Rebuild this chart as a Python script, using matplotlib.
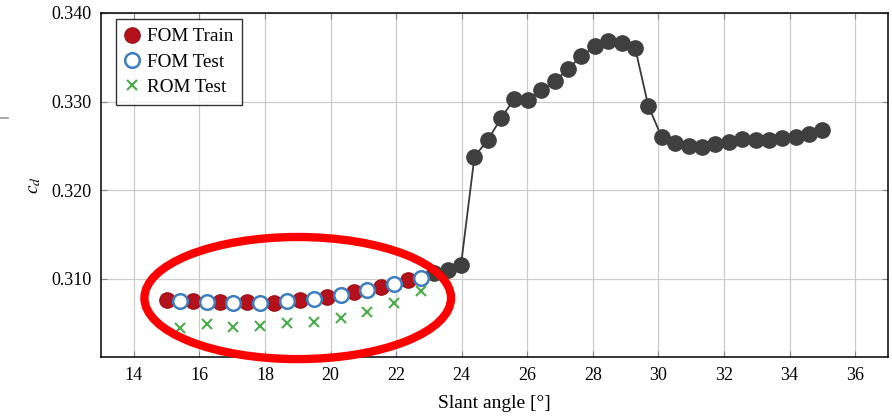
import numpy as np
import matplotlib
matplotlib.use("Agg")
import matplotlib.pyplot as plt
from matplotlib.patches import Ellipse
from matplotlib.lines import Line2D

plt.rcParams['font.family'] = ['Liberation Serif', 'DejaVu Serif']
plt.rcParams['mathtext.fontset'] = 'stix'

# Slant angles (deg) of the 50 sampled configurations
angles = [15.00, 15.41, 15.82, 16.22, 16.63, 17.04, 17.45, 17.86, 18.27, 18.67,
          19.08, 19.49, 19.90, 20.31, 20.71, 21.12, 21.53, 21.94, 22.35, 22.76,
          23.16, 23.57, 23.98, 24.39, 24.80, 25.20, 25.61, 26.02, 26.43, 26.84,
          27.24, 27.65, 28.06, 28.47, 28.88, 29.29, 29.69, 30.10, 30.51, 30.92,
          31.33, 31.73, 32.14, 32.55, 32.96, 33.37, 33.78, 34.18, 34.59, 35.00]

# Full-order drag coefficient at every angle
cd_fom = [0.30763, 0.30752, 0.30755, 0.30737, 0.30737, 0.30726, 0.30737, 0.30733, 0.30733, 0.30755,
          0.30763, 0.30774, 0.30793, 0.30819, 0.30849, 0.30876, 0.30906, 0.30944, 0.30989, 0.31015,
          0.31064, 0.31102, 0.31161, 0.32381, 0.32569, 0.32814, 0.33032, 0.33021, 0.33126, 0.33228,
          0.33371, 0.33510, 0.33623, 0.33680, 0.33661, 0.33605, 0.32953, 0.32600, 0.32539, 0.32505,
          0.32494, 0.32524, 0.32550, 0.32577, 0.32569, 0.32562, 0.32589, 0.32600, 0.32637, 0.32682]

# Indices used for training / testing the reduced model
train_idx = [0, 2, 4, 6, 8, 10, 12, 14, 16, 18]
test_idx = [1, 3, 5, 7, 9, 11, 13, 15, 17, 19]

# Reduced-order prediction at the test angles
cd_rom_test = [0.30450, 0.30488, 0.30461, 0.30473, 0.30500,
               0.30511, 0.30556, 0.30631, 0.30726, 0.30865]

x_ticks = [14, 16, 18, 20, 22, 24, 26, 28, 30, 32, 34, 36]
y_ticks = [0.310, 0.320, 0.330, 0.340]

fig = plt.figure(figsize=(8.92, 4.16), dpi=100)
ax = fig.add_axes([0.1132, 0.1418, 0.8823, 0.827])

ang = np.array(angles)
cd = np.array(cd_fom)

# Full sweep (line + dark markers)
ax.plot(ang[19:], cd[19:], color='#3a3a3a', lw=1.3, zorder=2)
ax.plot(ang[20:], cd[20:], 'o', color='#3f3f3f', ms=11, mec='#3f3f3f', zorder=3)

ax.plot(ang[train_idx], cd[train_idx], 'o', color='#b3121c', mec='#a01018',
        ms=11, zorder=4, label='FOM Train')
ax.plot(ang[test_idx], cd[test_idx], 'o', mfc='white', mec='#3d7fc1', mew=1.8,
        ms=10.5, zorder=4, label='FOM Test')
ax.plot(ang[test_idx], cd_rom_test, 'x', color='#4aad48', mew=1.5, ms=7.5,
        zorder=4, label='ROM Test')

ax.set_xlim(13, 37)
ax.set_ylim(0.3012, 0.340)
ax.set_xticks(x_ticks)
ax.set_yticks(y_ticks)
ax.set_yticklabels([f'{v:.3f}' for v in y_ticks])
ax.grid(True, color='#cccccc', lw=0.9)
ax.set_axisbelow(True)
ax.tick_params(direction='in', length=4, color='#888888', labelsize=13,
               top=True, right=True, pad=7)
for s in ax.spines.values():
    s.set_color('black')
    s.set_linewidth(1.1)

ax.set_xlabel('Slant angle [°]', fontsize=14, labelpad=8)
ax.set_ylabel('$c_d$', fontsize=14, labelpad=6)

leg = ax.legend(loc='upper left', bbox_to_anchor=(0.019, 0.982), fontsize=13.8,
                frameon=True, fancybox=False, edgecolor='black',
                handlelength=0.8, handletextpad=0.35, borderpad=0.45,
                labelspacing=0.42, borderaxespad=0.0)
leg.get_frame().set_linewidth(1.0)

# Highlight of the training/testing region
ax.add_patch(Ellipse((19.0, 0.30785), 9.35, 0.01377, fill=False,
                     edgecolor='#ff0000', lw=6, zorder=6, clip_on=False))

fig.add_artist(Line2D([0.0, 0.009], [1 - 118 / 416, 1 - 118 / 416],
                      color='#999999', lw=1.2))

fig.savefig('out.png', dpi=100)
